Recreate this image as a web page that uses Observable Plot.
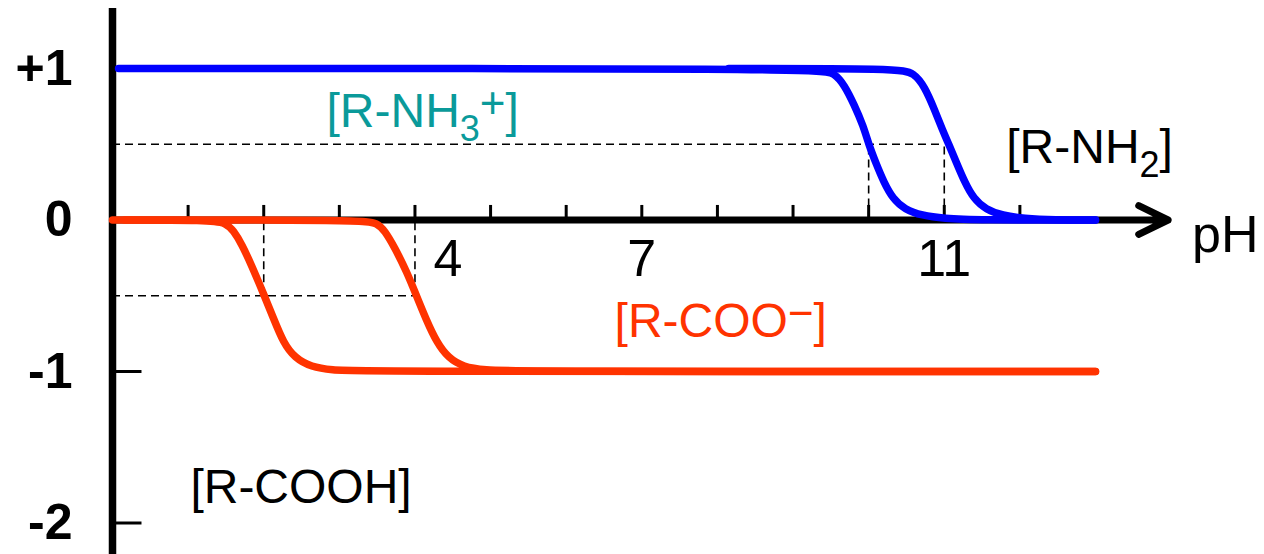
<!DOCTYPE html>
<html><head><meta charset="utf-8">
<script src="https://cdn.jsdelivr.net/npm/d3@7"></script>
<script src="https://cdn.jsdelivr.net/npm/@observablehq/plot@0.6"></script>
<style>
html,body{margin:0;padding:0;background:#fff;}
#chart{width:1264px;height:554px;overflow:hidden;}
#chart svg{display:block;}
</style></head><body><div id="chart"></div>
<script>
// ---- data: [pH, net charge contribution] ----
const aminoCurvePKa10 = [[0.08,1],[9.35,1],[9.55,0.97],[9.68,0.89],[9.81,0.76],[9.93,0.62],[10.0,0.5],[10.1,0.37],[10.2,0.25],[10.32,0.14],[10.48,0.07],[10.7,0.03],[11.0,0.01],[11.4,0],[13,0]];
const aminoCurvePKa11 = [[8.15,1],[10.4,1],[10.6,0.97],[10.74,0.88],[10.87,0.73],[10.98,0.59],[11.06,0.5],[11.16,0.38],[11.27,0.25],[11.39,0.14],[11.55,0.07],[11.77,0.03],[12.05,0.01],[12.45,0],[13,0]];
const carboxylCurvePKa2 = [[0,0],[1.3,0],[1.5,-0.02],[1.6,-0.07],[1.71,-0.16],[1.84,-0.3],[2.0,-0.49],[2.13,-0.65],[2.26,-0.81],[2.41,-0.91],[2.63,-0.97],[2.9,-0.99],[3.25,-1],[13,-1]];
const carboxylCurvePKa4 = [[0.16,0],[3.32,0],[3.5,-0.02],[3.6,-0.07],[3.73,-0.18],[3.89,-0.34],[4.02,-0.5],[4.15,-0.66],[4.29,-0.81],[4.44,-0.91],[4.64,-0.97],[4.92,-0.99],[5.35,-1],[13,-1]];

const aminoPKa = [10, 11];
const carboxylPKa = [2, 4];

const xTickValues = [1,2,3,4,5,6,7,8,9,10,11,12];
const xLabelFirst = [4];
const xLabelOthers = [7, 11];
const xAxisTitle = ["pH"];
const yTickValues = [1, 0, -1, -2];
const yTickText = ["+1", "0", "-1", "-2"];
const yTickMarks = [-1, -2];

const speciesNames = ["[R-NH_3^+]", "[R-NH_2]", "[R-COO^−]", "[R-COOH]"];
const speciesX = [2.83, 11.82, 6.64, 1.03];
const speciesY = [0.716, 0.479, -0.67, -1.766];
const speciesColor = ["#0a9a9a", "#000000", "#ff3300", "#000000"];

// ---- build tables ----
const BLUE = "#0000ff", RED = "#ff3300";
const FONT = "'Liberation Sans', Arial, Helvetica, sans-serif";
const rows = (pts, series) => pts.map(([pH, charge]) => ({pH, charge, series}));
const blueRows = [...rows(aminoCurvePKa10, "a10"), ...rows(aminoCurvePKa11, "a11")];
const redRows = [...rows(carboxylCurvePKa2, "c2"), ...rows(carboxylCurvePKa4, "c4")];

const hGuides = [
  {y: 0.5, x2: d3.max(aminoPKa)},
  {y: -0.5, x2: d3.max(carboxylPKa)}
];
const vGuides = [
  ...aminoPKa.map(p => ({x: p, y1: 0, y2: 0.5})),
  ...carboxylPKa.map(p => ({x: p, y1: -0.5, y2: 0}))
];
const species = speciesNames.map((name, i) => ({name, x: speciesX[i], y: speciesY[i], color: speciesColor[i]}));
const xArrowEnd = 13.96;

const chart = Plot.plot({
  width: 1264, height: 554,
  marginLeft: 112, marginRight: 169, marginTop: 68, marginBottom: 31.5,
  x: {domain: [0, 13], axis: null},
  y: {domain: [-2, 1], axis: null},
  style: {fontFamily: FONT, background: "white", overflow: "visible", color: "black"},
  marks: [
    Plot.ruleY(hGuides, {y: "y", x1: 0, x2: "x2", stroke: "black", strokeWidth: 1.6, strokeDasharray: "8,5"}),
    Plot.ruleX(vGuides, {x: "x", y1: "y1", y2: "y2", stroke: "black", strokeWidth: 1.6, strokeDasharray: "8,5"}),
    Plot.ruleX(xTickValues, {x: d => d, y1: 0, y2: 0.096, stroke: "black", strokeWidth: 3}),
    Plot.ruleY(yTickMarks, {y: d => d, x1: 0, x2: 0.39, stroke: "black", strokeWidth: 3}),
    Plot.ruleX([0], {x: d => d, y1: -2.21, y2: 1.396, stroke: "black", strokeWidth: 7.5}),
    Plot.arrow([{x1: 0, y1: 0, x2: xArrowEnd, y2: 0}], {
      x1: "x1", y1: "y1", x2: "x2", y2: "y2",
      stroke: "black", strokeWidth: 7, headLength: 7, headAngle: 52,
      strokeLinecap: "round", strokeLinejoin: "round"
    }),
    Plot.line(redRows, {x: "pH", y: "charge", z: "series", stroke: RED, strokeWidth: 7.5, curve: "basis"}),
    Plot.line(blueRows, {x: "pH", y: "charge", z: "series", stroke: BLUE, strokeWidth: 7.5, curve: "basis"}),
    Plot.text(yTickValues, {x: 0, y: d => d, text: (d, i) => yTickText[i], dx: -40, textAnchor: "end", fontSize: 50, fontWeight: "bold", fill: "black"}),
    Plot.text(xLabelFirst, {x: d => d, y: 0, text: d => String(d), dx: 33, dy: 39, fontSize: 52, fill: "black"}),
    Plot.text(xLabelOthers, {x: d => d, y: 0, text: d => String(d), dy: 39, fontSize: 52, fill: "black"}),
    Plot.text(xAxisTitle, {x: xArrowEnd, y: 0, text: d => d, dx: 24, dy: 15, textAnchor: "start", fontSize: 52, fill: "black"}),
    Plot.text(species, {x: "x", y: "y", text: "name", fill: "color", textAnchor: "start", fontSize: 48})
  ]
});

// render sub/superscripts: "_c" -> subscript c, "^c" -> superscript c
const SUB = {shift: 14, size: 36}, SUP = {shift: -9, size: 44};
d3.select(chart).selectAll("text").each(function () {
  const raw = this.textContent;
  if (!/[_^]/.test(raw)) return;
  const sel = d3.select(this);
  sel.text(null);
  const re = /([_^])(.)|([^_^]+)/g;
  let m, cur = 0;
  while ((m = re.exec(raw))) {
    let target = 0, size = null, str;
    if (m[3]) { str = m[3]; }
    else if (m[1] === "_") { str = m[2]; target = SUB.shift; size = SUB.size; }
    else { str = m[2]; target = SUP.shift; size = SUP.size; }
    const ts = sel.append("tspan").text(str);
    if (target - cur !== 0) ts.attr("dy", target - cur);
    if (size) ts.attr("font-size", size);
    cur = target;
  }
});

document.getElementById("chart").appendChild(chart);
</script></body></html>
